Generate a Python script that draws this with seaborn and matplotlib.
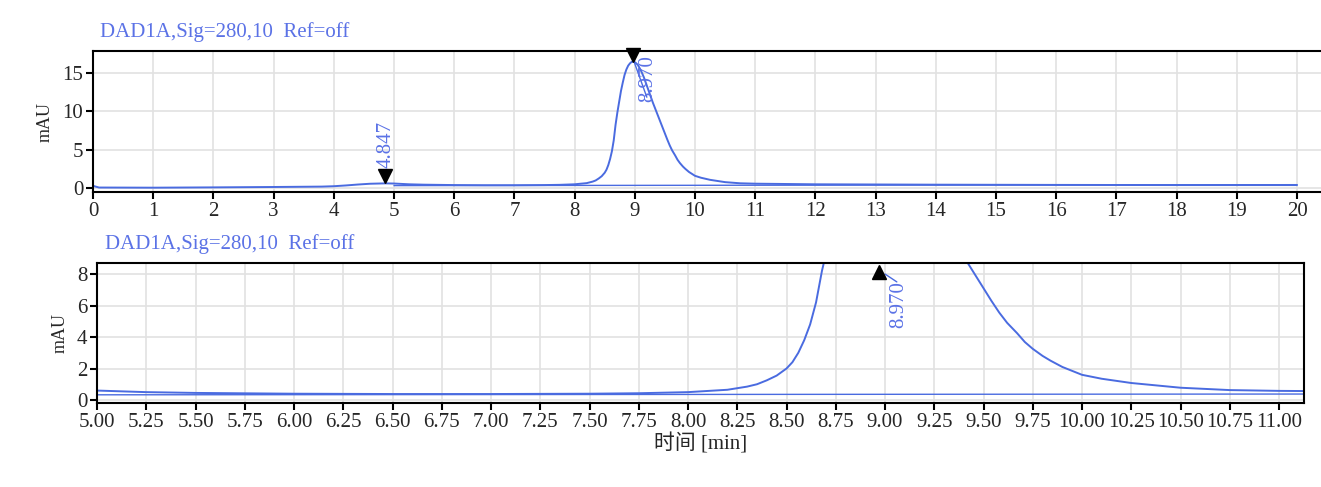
import matplotlib
matplotlib.use("Agg")
import matplotlib.pyplot as plt
from matplotlib.ticker import FixedLocator, FormatStrFormatter
import seaborn as sns
import pandas as pd

# chromatogram signal (min, mAU)
time_min = [0.0, 0.1, 1.0, 2.0, 3.0, 3.8, 4.0, 4.2, 4.4, 4.6, 4.85, 5.0, 5.25, 5.5,
            6.0, 6.5, 7.0, 7.5, 7.75, 8.0, 8.2, 8.3, 8.35, 8.4, 8.45, 8.5, 8.53,
            8.56, 8.59, 8.62, 8.65, 8.68, 8.71, 8.74, 8.77, 8.8, 8.83, 8.86, 8.89,
            8.92, 8.95, 8.98, 9.01, 9.05, 9.1, 9.15, 9.2, 9.25, 9.3, 9.36, 9.42,
            9.46, 9.5, 9.54, 9.58, 9.62, 9.67, 9.71, 9.75, 9.8, 9.84, 9.9, 9.95,
            10.0, 10.1, 10.25, 10.4, 10.5, 10.75, 11.0, 11.12, 12.0, 14.0, 16.0,
            18.0, 20.0]
signal_mau = [0.3, 0.08, 0.06, 0.1, 0.15, 0.2, 0.25, 0.35, 0.47, 0.57, 0.62, 0.6, 0.5, 0.45,
              0.4, 0.38, 0.38, 0.4, 0.43, 0.5, 0.65, 0.85, 1.0, 1.25, 1.55, 2.0, 2.4,
              3.0, 3.8, 4.8, 6.2, 8.2, 9.8, 11.2, 12.6, 13.7, 14.7, 15.4, 15.9,
              16.2, 16.4, 16.4, 16.3, 16.0, 15.3, 14.4, 13.3, 12.2, 11.1, 9.9, 8.7,
              7.9, 7.1, 6.3, 5.55, 4.9, 4.25, 3.68, 3.25, 2.8, 2.5, 2.1, 1.85,
              1.6, 1.35, 1.08, 0.9, 0.78, 0.63, 0.58, 0.57, 0.5, 0.45, 0.42,
              0.4, 0.4]

# integration baseline
base_time = [5.0, 20.0]
base_mau = [0.33, 0.45]

# peaks
peak_rt = [4.847, 8.970]
peak_labels = ["4.847", "8.970"]

title_txt = "DAD1A,Sig=280,10  Ref=off"
top_xticks = list(range(0, 21))
top_yticks = [0, 5, 10, 15]
bot_xticks = [5.0 + 0.25 * i for i in range(25)]
bot_yticks = [0, 2, 4, 6, 8]

line_col = "#4a6be0"
text_col = "#5b72e6"
serif_cjk = ["Liberation Serif", "Noto Sans CJK SC"]

sns.set_theme(style="whitegrid")
plt.rcParams["font.family"] = serif_cjk
plt.rcParams["axes.edgecolor"] = "black"
plt.rcParams["grid.color"] = "#e2e2e2"

df = pd.DataFrame({"t": time_min, "mAU": signal_mau})
df_base = pd.DataFrame({"t": base_time, "mAU": base_mau})

fig = plt.figure(figsize=(13.21, 4.87), dpi=100)
ax1 = fig.add_axes([93 / 1321, 1 - 192 / 487, (1321 - 93) / 1321, 141 / 487])
ax2 = fig.add_axes([97 / 1321, 1 - 403 / 487, (1304 - 97) / 1321, 140 / 487])

for ax in (ax1, ax2):
    sns.lineplot(data=df, x="t", y="mAU", ax=ax, color=line_col, linewidth=1.4)
    sns.lineplot(data=df_base, x="t", y="mAU", ax=ax, color=line_col, linewidth=1.0)
    ax.set_xlabel("")
    ax.set_ylabel("mAU", fontsize=13, labelpad=6)
    for s in ax.spines.values():
        s.set_color("black")
        s.set_linewidth(1.5)
    ax.tick_params(axis="both", which="major", direction="out", length=5, width=1.5,
                   color="black", labelsize=15, pad=2, bottom=True, left=True)
    ax.grid(True, color="#e2e2e2", linewidth=1.2)

# top panel
ax1.set_xlim(0, (1321 - 93) / 60.2)
ax1.set_ylim(-0.5, 17.8)
ax1.xaxis.set_major_locator(FixedLocator(top_xticks))
ax1.yaxis.set_major_locator(FixedLocator(top_yticks))
ax1.spines["right"].set_visible(False)
ax1.text(100 / 1321, 1 - 32 / 487, title_txt, transform=fig.transFigure,
         fontsize=15, color=text_col, va="center")

ax1.plot(peak_rt[0], 1.6, marker="v", color="black", markersize=10, linestyle="none")
ax1.text(peak_rt[0] + 0.02, 2.6, peak_labels[0], rotation=90, ha="center", va="bottom",
         fontsize=15, color=text_col)
ax1.plot(peak_rt[1], 17.3, marker="v", color="black", markersize=10, linestyle="none",
         clip_on=False, zorder=5)
ax1.plot([peak_rt[1], 9.2], [16.8, 11.8], color=line_col, linewidth=1.0)
ax1.text(9.22, 17.2, peak_labels[1], rotation=90, ha="center", va="top",
         fontsize=15, color=text_col)

# bottom panel (zoom)
ax2.set_xlim(5.0, 5.0 + (1304 - 97) / 197)
ax2.set_ylim(-0.19, 8.7)
ax2.xaxis.set_major_locator(FixedLocator(bot_xticks))
ax2.xaxis.set_major_formatter(FormatStrFormatter("%.2f"))
ax2.yaxis.set_major_locator(FixedLocator(bot_yticks))
ax2.text(105 / 1321, 1 - 244 / 487, title_txt, transform=fig.transFigure,
         fontsize=15, color=text_col, va="center")
ax2.plot(peak_rt[1], 8.1, marker="^", color="black", markersize=10, linestyle="none",
         zorder=5)
ax2.plot([peak_rt[1] + 0.03, 9.06], [8.0, 7.5], color=line_col, linewidth=1.0)
ax2.text(9.07, 7.55, peak_labels[1], rotation=90, ha="center", va="top",
         fontsize=15, color=text_col)
ax2.set_xlabel("时间 [min]", fontsize=15, labelpad=1)

fig.savefig("out.png", dpi=100, facecolor="white")
